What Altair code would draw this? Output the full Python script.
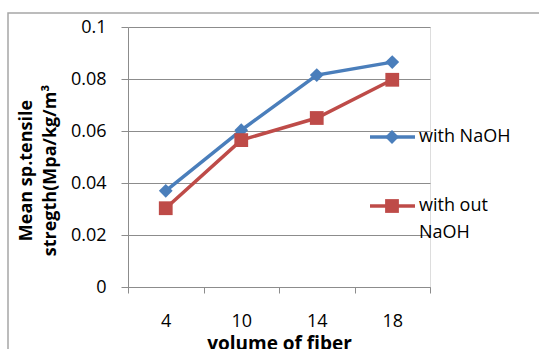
import altair as alt
import pandas as pd

fiber = ["4", "10", "14", "18"]
with_naoh = [0.037, 0.0603, 0.0815, 0.0865]
without_naoh = [0.0303, 0.0565, 0.065, 0.0797]
series = ["with NaOH", "with out NaOH"]
colors = ["#4A7EBB", "#BE4B48"]
shapes = ["diamond", "square"]
y_ticks = [0, 0.02, 0.04, 0.06, 0.08, 0.1]

df = pd.DataFrame({
    "fiber": fiber * 2,
    "value": with_naoh + without_naoh,
    "series": [series[0]] * 4 + [series[1]] * 4,
})

FONT = "Open Sans"
GRID = "#8c8c8c"

x = alt.X("fiber:O", sort=fiber,
          scale=alt.Scale(paddingInner=0, paddingOuter=0),
          axis=alt.Axis(title="volume of fiber", labelAngle=0, tickBand="extent",
                        domainColor=GRID, tickColor=GRID, tickSize=6,
                        labelPadding=19, labelFontSize=18, labelColor="#000",
                        titleFontSize=19, titleFontWeight="bold",
                        titleBaseline="alphabetic", titleY=62,
                        titleColor="#000", grid=False))
y = alt.Y("value:Q", scale=alt.Scale(domain=[0, 0.1]),
          axis=alt.Axis(values=y_ticks, format="~g", domainColor=GRID, tickColor=GRID,
                        tickSize=7, gridColor=GRID, labelFontSize=18, labelColor="#000",
                        labelPadding=15,
                        title=["Mean sp.tensile", "stregth(Mpa/kg/m³"],
                        titleFontSize=18, titleFontWeight="bold", titleColor="#000",
                        titleLineHeight=24, titleBaseline="top", titleAlign="center",
                        titleAngle=270, titleX=-111, titleY=143))
color = alt.Color("series:N", scale=alt.Scale(domain=series, range=colors), legend=None)
shape = alt.Shape("series:N", scale=alt.Scale(domain=series, range=shapes), legend=None)

lines = alt.Chart(df).mark_line(strokeWidth=3.5).encode(x=x, y=y, color=color)
points = alt.Chart(df).mark_point(filled=True, opacity=1, size=190).encode(
    x=x, y=y, color=color, shape=shape)

one = pd.DataFrame({"a": [0]})
border = alt.Chart(one).mark_rect(fill=None, stroke="#a6a6a6", strokeWidth=1.5).encode(
    x=alt.value(-120), y=alt.value(-14), x2=alt.value(430), y2=alt.value(340))

def legend_entry(i, ly, lines_text):
    rule = alt.Chart(one).mark_rule(color=colors[i], strokeWidth=3.5).encode(
        x=alt.value(242), x2=alt.value(287), y=alt.value(ly))
    pt = alt.Chart(one).mark_point(filled=True, opacity=1, size=190, shape=shapes[i],
                                   color=colors[i]).encode(
        x=alt.value(264), y=alt.value(ly))
    txt = alt.Chart(one).mark_text(align="left", baseline="middle", fontSize=18, font=FONT,
                                   lineHeight=27, color="#000", text=lines_text).encode(
        x=alt.value(291), y=alt.value(ly))
    return [rule, pt, txt]

leg = legend_entry(0, 110, "with NaOH") + legend_entry(1, 179, ["with out", "NaOH"])

chart = alt.layer(border, lines, points, *leg).properties(
    width=302, height=260,
    autosize=alt.AutoSizeParams(type="none"),
    padding={"left": 128, "top": 27, "right": 109, "bottom": 62},
    background="white",
).configure_view(stroke=None).configure(font=FONT)

chart.save("out.html", embed_options={"renderer": "svg", "actions": False})
